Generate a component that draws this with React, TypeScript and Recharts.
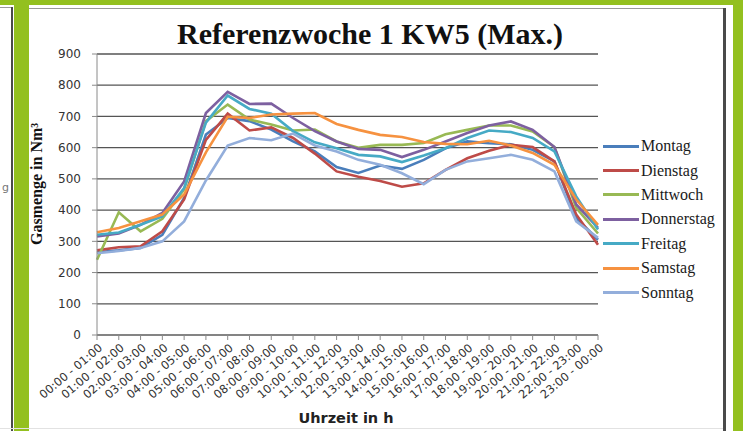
import { LineChart, Line, XAxis, YAxis, CartesianGrid, Legend } from 'recharts'

const slots = [
  '00:00 - 01:00', '01:00 - 02:00', '02:00 - 03:00', '03:00 - 04:00', '04:00 - 05:00', '05:00 - 06:00',
  '06:00 - 07:00', '07:00 - 08:00', '08:00 - 09:00', '09:00 - 10:00', '10:00 - 11:00', '11:00 - 12:00',
  '12:00 - 13:00', '13:00 - 14:00', '14:00 - 15:00', '15:00 - 16:00', '16:00 - 17:00', '17:00 - 18:00',
  '18:00 - 19:00', '19:00 - 20:00', '20:00 - 21:00', '21:00 - 22:00', '22:00 - 23:00', '23:00 - 00:00',
]

const montag = [265, 271, 279, 321, 439, 642, 695, 685, 658, 620, 588, 538, 519, 543, 532, 561, 598, 620, 614, 611, 593, 556, 375, 305]
const dienstag = [271, 281, 284, 332, 434, 625, 709, 655, 665, 631, 581, 524, 507, 493, 475, 486, 529, 566, 590, 609, 602, 556, 386, 289]
const mittwoch = [241, 393, 332, 372, 466, 685, 738, 690, 674, 655, 658, 620, 600, 609, 609, 615, 643, 657, 671, 671, 652, 602, 407, 325]
const donnerstag = [316, 325, 353, 391, 492, 711, 779, 740, 741, 695, 653, 620, 596, 593, 570, 593, 620, 647, 671, 684, 657, 602, 418, 343]
const freitag = [321, 328, 353, 380, 471, 680, 767, 724, 709, 653, 617, 598, 577, 572, 554, 575, 598, 631, 655, 650, 631, 588, 444, 338]
const samstag = [329, 343, 364, 386, 450, 585, 699, 695, 706, 709, 711, 676, 657, 641, 634, 618, 612, 611, 622, 607, 583, 545, 434, 353]
const sonntag = [262, 269, 279, 300, 364, 495, 607, 631, 624, 645, 607, 588, 561, 545, 518, 483, 529, 556, 566, 577, 561, 524, 364, 311]

const yTicks = [0, 100, 200, 300, 400, 500, 600, 700, 800, 900]

const days = [
  { name: 'Montag', values: montag, color: '#4A7EBB' },
  { name: 'Dienstag', values: dienstag, color: '#BE4B48' },
  { name: 'Mittwoch', values: mittwoch, color: '#98B954' },
  { name: 'Donnerstag', values: donnerstag, color: '#7D60A0' },
  { name: 'Freitag', values: freitag, color: '#46AAC5' },
  { name: 'Samstag', values: samstag, color: '#F69240' },
  { name: 'Sonntag', values: sonntag, color: '#93AEDB' },
]

const data = slots.map((slot, i) => {
  const row: Record<string, string | number> = { slot }
  days.forEach(d => { row[d.name] = d.values[i] })
  return row
})

const green = '#93C01F'
const serif = '"Liberation Serif", "Times New Roman", serif'
const sans = '"DejaVu Sans", Verdana, sans-serif'

function SlotTick({ x, y, payload }: any) {
  const ax = x + 1
  const ay = y + 1
  return (
    <text
      x={ax}
      y={ay}
      transform={`rotate(-40 ${ax} ${ay})`}
      textAnchor="end"
      dy="0.7em"
      fontSize={11.5}
      fontFamily={sans}
      fill="#333"
    >
      {payload.value}
    </text>
  )
}

function DayLegend() {
  return (
    <div style={{ fontFamily: serif, fontSize: 16, color: '#1a1a1a' }}>
      {days.map(d => (
        <div key={d.name} style={{ display: 'flex', alignItems: 'center', height: 24.4, whiteSpace: 'nowrap' }}>
          <span style={{ display: 'inline-block', width: 36, height: 3, background: d.color, marginRight: 2 }} />
          {d.name}
        </div>
      ))}
    </div>
  )
}

export default function App() {
  return (
    <div style={{ position: 'fixed', left: 0, top: 0, width: 743, height: 431, background: '#fff', overflow: 'hidden' }}>
      <LineChart width={743} height={431} data={data} margin={{ top: 54, right: 145, bottom: 36, left: 0 }}>
        <CartesianGrid vertical={false} stroke="#555" strokeWidth={1.3} />
        <XAxis
          dataKey="slot"
          interval={0}
          tick={<SlotTick />}
          tickSize={5}
          height={60}
          axisLine={{ stroke: '#8a8a8a' }}
          tickLine={{ stroke: '#8a8a8a' }}
        />
        <YAxis
          domain={[0, 900]}
          ticks={yTicks}
          width={97}
          tickSize={5}
          tickMargin={11}
          axisLine={{ stroke: '#8a8a8a' }}
          tickLine={{ stroke: '#8a8a8a' }}
          tick={{ fill: '#333', fontSize: 12, fontFamily: sans }}
        />
        <Legend
          layout="vertical"
          align="center"
          verticalAlign="middle"
          wrapperStyle={{ left: 603, top: 134, width: 'auto' }}
          content={<DayLegend />}
        />
        {days.map(d => (
          <Line
            key={d.name}
            type="linear"
            dataKey={d.name}
            stroke={d.color}
            strokeWidth={2.6}
            dot={false}
            isAnimationActive={false}
          />
        ))}
      </LineChart>

      <div style={{ position: 'absolute', left: 370, top: 17, transform: 'translateX(-50%)', whiteSpace: 'nowrap', fontFamily: serif, fontWeight: 'bold', fontSize: 30, color: '#111' }}>
        Referenzwoche 1 KW5 (Max.)
      </div>
      <div style={{ position: 'absolute', left: 37, top: 184, transform: 'translate(-50%, -50%) rotate(-90deg)', whiteSpace: 'nowrap', fontFamily: serif, fontWeight: 'bold', fontSize: 16, color: '#111' }}>
        Gasmenge in Nm³
      </div>
      <div style={{ position: 'absolute', left: 346, top: 418, transform: 'translate(-50%, -50%)', whiteSpace: 'nowrap', fontFamily: sans, fontWeight: 'bold', fontSize: 14.5, color: '#222' }}>
        Uhrzeit in h
      </div>

      {/* slide frame around the chart */}
      <div style={{ position: 'absolute', left: 0, top: 0, width: 743, height: 5, background: green }} />
      <div style={{ position: 'absolute', left: 0, top: 7, width: 11, height: 1, background: '#9a9a9a' }} />
      <div style={{ position: 'absolute', left: 11, top: 7, width: 2, height: 424, background: '#4a4a4a' }} />
      <div style={{ position: 'absolute', left: 2, top: 182, fontFamily: sans, fontSize: 11, lineHeight: 1, color: '#777' }}>g</div>
      <div style={{ position: 'absolute', left: 14, top: 0, width: 15, height: 431, background: green }} />
      <div style={{ position: 'absolute', left: 29, top: 8, width: 695, height: 1, background: '#9a9a9a' }} />
      <div style={{ position: 'absolute', left: 723, top: 8, width: 3, height: 423, background: '#4a4a4a' }} />
      <div style={{ position: 'absolute', left: 733, top: 0, width: 10, height: 431, background: green }} />
      <div style={{ position: 'absolute', left: 0, top: 428, width: 723, height: 1, background: '#e2e2e2' }} />
    </div>
  )
}
